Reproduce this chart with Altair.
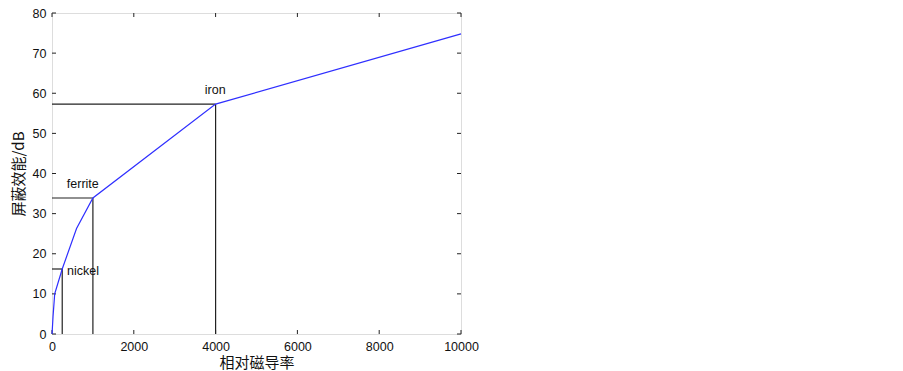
import altair as alt
import pandas as pd

# curve data
mu = [1, 25, 66, 250, 600, 1000, 4000, 10000]
se = [0, 4.3, 10, 16.2, 26.3, 33.9, 57.3, 74.8]

# materials
mat_names = ["nickel", "ferrite", "iron"]
mat_mu = [250, 1000, 4000]
mat_se = [16.2, 33.9, 57.3]
lab_x = [760, 752, 3990]
lab_y = [15.6, 37.4, 60.8]

x_ticks = [0, 2000, 4000, 6000, 8000, 10000]
y_ticks = [0, 10, 20, 30, 40, 50, 60, 70, 80]

W, H = 409, 321
FONT = "Liberation Sans"
CJK = "Noto Sans CJK SC"

curve = pd.DataFrame({"mu": mu, "se": se})
mats = pd.DataFrame({"name": mat_names, "mu": mat_mu, "se": mat_se,
                     "zero": [0] * len(mat_mu), "lx": lab_x, "ly": lab_y})
xt = pd.DataFrame({"v": x_ticks})
yt = pd.DataFrame({"v": y_ticks})

xs = alt.Scale(domain=[0, 10000], nice=False, zero=False)
ys = alt.Scale(domain=[0, 80], nice=False, zero=False)

xax = alt.Axis(values=x_ticks, format="d", labelFont=FONT, labelFontSize=12.5,
               labelColor="#111", ticks=False, domain=False, grid=False,
               labelFlush=False, labelOverlap=False, tickCount=6,
               labelPadding=6, title="相对磁导率", titleFont=CJK,
               titleFontSize=15, titleFontWeight="normal", titleColor="#111",
               titlePadding=3)
yax = alt.Axis(values=y_ticks, labelFont=FONT, labelFontSize=12.5,
               labelColor="#111", ticks=False, domain=False, grid=False,
               labelFlush=False, labelOverlap=False, labelSeparation=0,
               tickCount=9,
               labelPadding=6, title="屏蔽效能/dB", titleFont=CJK,
               titleFontSize=15, titleFontWeight="normal", titleColor="#111",
               titlePadding=6)

line = alt.Chart(curve).mark_line(color="#2f2fff", strokeWidth=1.2).encode(
    x=alt.X("mu:Q", scale=xs, axis=xax),
    y=alt.Y("se:Q", scale=ys, axis=yax),
)

hrule = alt.Chart(mats).mark_rule(color="#222", strokeWidth=1.2).encode(
    x=alt.X("zero:Q", scale=xs), x2="mu:Q", y=alt.Y("se:Q", scale=ys))
vrule = alt.Chart(mats).mark_rule(color="#222", strokeWidth=1.2).encode(
    x=alt.X("mu:Q", scale=xs), y=alt.Y("zero:Q", scale=ys), y2="se:Q")

labels = alt.Chart(mats).mark_text(font=FONT, fontSize=12.5, color="#111").encode(
    x=alt.X("lx:Q", scale=xs), y=alt.Y("ly:Q", scale=ys), text="name:N")

xb = alt.Chart(xt).mark_rule(color="#222").encode(
    x=alt.X("v:Q", scale=xs), y=alt.value(H), y2=alt.value(H - 4))
xtop = alt.Chart(xt).mark_rule(color="#222").encode(
    x=alt.X("v:Q", scale=xs), y=alt.value(0), y2=alt.value(4))
yl = alt.Chart(yt).mark_rule(color="#222").encode(
    y=alt.Y("v:Q", scale=ys), x=alt.value(0), x2=alt.value(4))
yr = alt.Chart(yt).mark_rule(color="#222").encode(
    y=alt.Y("v:Q", scale=ys), x=alt.value(W), x2=alt.value(W - 4))

chart = alt.layer(hrule, vrule, xb, xtop, yl, yr, line, labels).properties(
    width=W, height=H,
    autosize=alt.AutoSizeParams(type="none"),
    padding={"left": 44, "top": 5, "right": 40, "bottom": 40},
).configure_view(stroke="#222", strokeWidth=1.2).configure(background="white")

chart.save("out.html", embed_options={"renderer": "svg", "actions": False})
